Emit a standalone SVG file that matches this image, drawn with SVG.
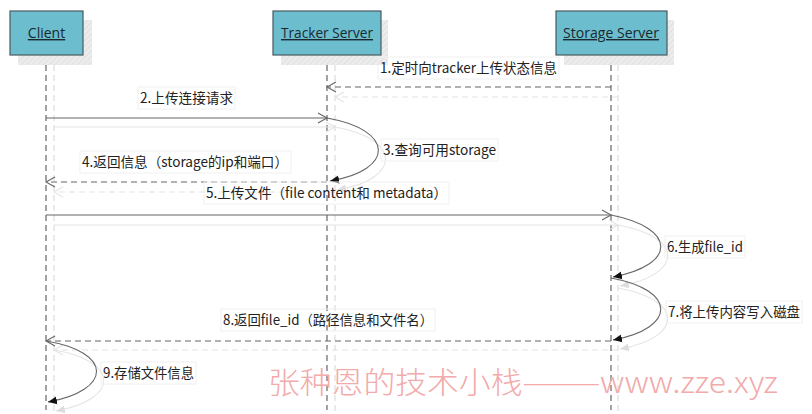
<svg xmlns="http://www.w3.org/2000/svg" width="812" height="414" viewBox="0 0 812 414">
<style>
.box{fill:#6cbdcd;stroke:#4a5a60;stroke-width:1.2}
.shadow{fill:url(#hatch)}
.bt{font-family:"Open Sans","Liberation Sans",sans-serif;font-size:14px;fill:#1a2a30;text-anchor:middle;text-decoration:underline}
.life{stroke:#666;stroke-width:1.2;stroke-dasharray:6,4;fill:none}
.lifes{stroke:#ddd;stroke-width:1.2;stroke-dasharray:6,4;fill:none}
.msg{stroke:#666;stroke-width:1.1;fill:none}
.dash{stroke-dasharray:6,4}
.ms{stroke:#e4e4e4;stroke-width:1.1;fill:none}
.lbl{font-family:"Noto Sans CJK SC","Liberation Sans",sans-serif;font-size:14px;fill:#222}
.lbg{fill:none;stroke:#f0f0f0;stroke-width:1}
.wm{font-family:"Noto Sans CJK SC",sans-serif;font-size:30px;font-weight:300;fill:#f2aaaa}
</style>
<defs>
<pattern id="hatch" width="4" height="4" patternUnits="userSpaceOnUse" patternTransform="rotate(45)">
<rect width="4" height="4" fill="#ececec"/>
<line x1="0" y1="0" x2="0" y2="4" stroke="#dcdcdc" stroke-width="1.5"/>
</pattern>
<marker id="open" markerWidth="12" markerHeight="12" refX="10" refY="6" orient="auto" markerUnits="userSpaceOnUse">
<path d="M1,1 L10,6 L1,11" fill="none" stroke="#666" stroke-width="1.1"/>
</marker>
<marker id="opens" markerWidth="12" markerHeight="12" refX="10" refY="6" orient="auto" markerUnits="userSpaceOnUse">
<path d="M1,1 L10,6 L1,11" fill="none" stroke="#e4e4e4" stroke-width="1.1"/>
</marker>
<marker id="fill" markerWidth="10" markerHeight="10" refX="9" refY="5" orient="auto" markerUnits="userSpaceOnUse">
<path d="M0,1 L9,5 L0,9 Z" fill="#111"/>
</marker>
<marker id="fills" markerWidth="10" markerHeight="10" refX="9" refY="5" orient="auto" markerUnits="userSpaceOnUse">
<path d="M0,1 L9,5 L0,9 Z" fill="#ddd"/>
</marker>
</defs>
<rect width="812" height="414" fill="#fff"/>

<g id="lifelines">
<line class="lifes" x1="54" y1="65" x2="54" y2="414"/>
<line class="lifes" x1="335" y1="65" x2="335" y2="414"/>
<line class="lifes" x1="618" y1="65" x2="618" y2="414"/>
<line class="life" x1="46" y1="55" x2="46" y2="410"/>
<line class="life" x1="327" y1="55" x2="327" y2="410"/>
<line class="life" x1="611" y1="55" x2="611" y2="410"/>
</g>

<g id="client">
<rect class="shadow" x="18" y="20" width="74" height="45"/>
<rect class="box" x="10" y="11" width="73" height="44"/>
<text class="bt" x="46.5" y="38">Client</text>
</g>
<g id="tracker">
<rect class="shadow" x="281" y="20" width="107" height="45"/>
<rect class="box" x="273" y="11" width="108" height="44"/>
<text class="bt" x="327" y="38" textLength="92" lengthAdjust="spacingAndGlyphs">Tracker Server</text>
</g>
<g id="storage">
<rect class="shadow" x="564" y="20" width="110" height="45"/>
<rect class="box" x="556" y="11" width="111" height="44"/>
<text class="bt" x="611" y="38" textLength="96" lengthAdjust="spacingAndGlyphs">Storage Server</text>
</g>

<g id="connectors">
<line class="ms dash" x1="618" y1="97" x2="335" y2="97" marker-end="url(#opens)"/>
<line class="ms" x1="54" y1="127" x2="335" y2="127" marker-end="url(#opens)"/>
<path class="ms" d="M335,127 C402,139 402,179 337,190" marker-end="url(#fills)"/>
<line class="ms dash" x1="335" y1="192" x2="54" y2="192" marker-end="url(#opens)"/>
<line class="ms" x1="54" y1="225" x2="618" y2="225" marker-end="url(#opens)"/>
<path class="ms" d="M618,225 C684,237 684,274 620,286" marker-end="url(#fills)"/>
<path class="ms" d="M618,288 C684,300 684,337 620,349" marker-end="url(#fills)"/>
<line class="ms dash" x1="618" y1="350" x2="54" y2="350" marker-end="url(#opens)"/>
<path class="ms" d="M54,350 C120,361 120,399 56,411" marker-end="url(#fills)"/>
<line class="msg dash" x1="611" y1="87" x2="327" y2="87" marker-end="url(#open)"/>
<line class="msg" x1="46" y1="118" x2="327" y2="118" marker-end="url(#open)"/>
<path class="msg" d="M327,118 C395,130 395,170 330,181" marker-end="url(#fill)"/>
<line class="msg dash" x1="327" y1="182" x2="46" y2="182" marker-end="url(#open)"/>
<line class="msg" x1="46" y1="215" x2="611" y2="215" stroke="#555" marker-end="url(#open)"/>
<path class="msg" d="M611,215 C677,228 677,265 613,277" marker-end="url(#fill)"/>
<path class="msg" d="M611,278 C677,290 677,328 613,340" marker-end="url(#fill)"/>
<line class="msg dash" x1="611" y1="341" x2="46" y2="341" marker-end="url(#open)"/>
<path class="msg" d="M46,341 C113,352 113,390 48,402" marker-end="url(#fill)"/>
</g>

<g id="labels">
<rect class="lbg" x="378" y="57" width="181" height="22"/>
<text class="lbl" x="380" y="73" textLength="177" lengthAdjust="spacingAndGlyphs">1.定时向tracker上传状态信息</text>
<rect class="lbg" x="138" y="87" width="97" height="22"/>
<text class="lbl" x="140" y="103" textLength="93" lengthAdjust="spacingAndGlyphs">2.上传连接请求</text>
<rect class="lbg" x="381" y="139" width="117" height="22"/>
<text class="lbl" x="383" y="155" textLength="113" lengthAdjust="spacingAndGlyphs">3.查询可用storage</text>
<rect class="lbg" x="80" y="151" width="211" height="22"/>
<text class="lbl" x="82" y="167" textLength="206" lengthAdjust="spacingAndGlyphs">4.返回信息（storage的ip和端口）</text>
<rect class="lbg" x="204" y="182" width="245" height="22"/>
<text class="lbl" x="206" y="198" textLength="241" lengthAdjust="spacingAndGlyphs">5.上传文件（file content和 metadata）</text>
<rect class="lbg" x="665" y="236" width="80" height="22"/>
<text class="lbl" x="667" y="252" textLength="76" lengthAdjust="spacingAndGlyphs">6.生成file_id</text>
<rect class="lbg" x="666" y="301" width="136" height="22"/>
<text class="lbl" x="668" y="317" textLength="132" lengthAdjust="spacingAndGlyphs">7.将上传内容写入磁盘</text>
<rect class="lbg" x="221" y="309" width="214" height="22"/>
<text class="lbl" x="223" y="325" textLength="210" lengthAdjust="spacingAndGlyphs">8.返回file_id（路径信息和文件名）</text>
<rect class="lbg" x="101" y="362" width="95" height="22"/>
<text class="lbl" x="103" y="378" textLength="91" lengthAdjust="spacingAndGlyphs">9.存储文件信息</text>
</g>

<g id="watermark">
<text class="wm" x="268" y="393" textLength="510" lengthAdjust="spacingAndGlyphs">张种恩的技术小栈———www.zze.xyz</text>
</g>
</svg>
